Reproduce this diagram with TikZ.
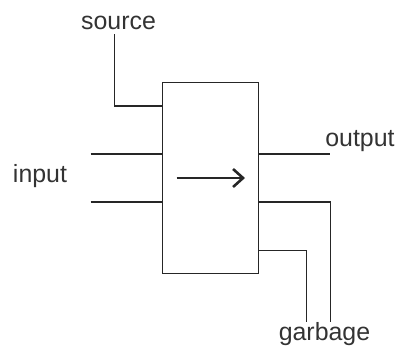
\documentclass[tikz,border=0pt]{standalone}
\usepackage{fontspec}
\setmainfont{Liberation Sans}
\usetikzlibrary{arrows.meta}
\tikzset{
  wire/.style={draw=black!85, line width=1.1bp},
  lbl/.style={inner sep=0pt, anchor=base, text=black!80, font=\fontsize{25}{30}\selectfont},
  blockbox/.style={draw=black!85, line width=1.1bp, rectangle, minimum width=96bp, minimum height=191.3bp, inner sep=0pt}
}
\begin{document}
\begin{tikzpicture}[x=1bp,y=-1bp]
\useasboundingbox (0,0) rectangle (397,349);
\node[blockbox] (box) at (210.7,177.7) {};
\node[lbl] (src) at (118.5,29.5) {source};
\node[lbl] (inp) at (40,182) {input};
\node[lbl] (outp) at (360,146.7) {output};
\node[lbl] (garb) at (324.5,340.5) {garbage};
\coordinate (s0) at (114.7,34);
\coordinate (s1) at (162.7,106);
\coordinate (i1a) at (90.7,154);
\coordinate (i1b) at (162.7,154);
\coordinate (i2a) at (90.7,202);
\coordinate (i2b) at (162.7,202);
\coordinate (o1a) at (258.7,154);
\coordinate (o1b) at (330.3,154);
\coordinate (g1a) at (258.7,202);
\coordinate (g1b) at (330.3,321.7);
\coordinate (g2a) at (258.7,250.3);
\coordinate (g2b) at (306.7,321.7);
\coordinate (a0) at (176.7,178);
\coordinate (a1) at (245,178);
\draw[wire] (s0) |- (s1);
\draw[wire] (i1a) -- (i1b);
\draw[wire] (i2a) -- (i2b);
\draw[wire] (o1a) -- (o1b);
\draw[wire] (g1a) -| (g1b);
\draw[wire] (g2a) -| (g2b);
\draw[wire, -{Straight Barb[length=10bp, width=18bp, line width=2.6bp]}] (a0) -- (a1);
\end{tikzpicture}
\end{document}
